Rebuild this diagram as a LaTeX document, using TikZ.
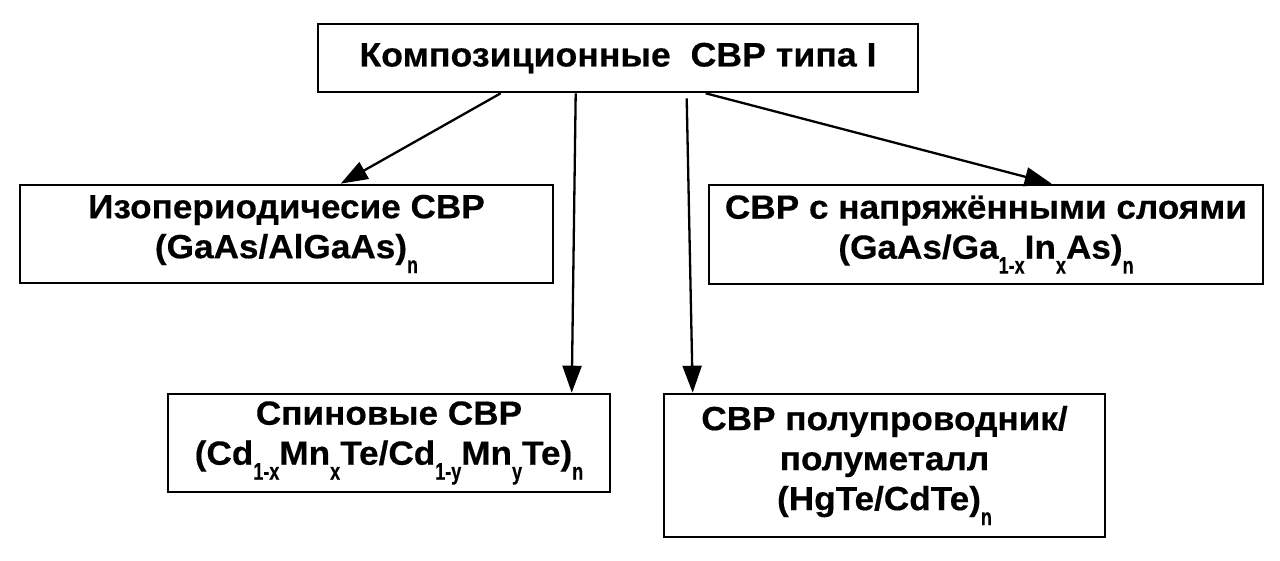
\documentclass[tikz,border=0pt]{standalone}
\usepackage{fontspec}
\setmainfont{Liberation Sans}[FakeStretch=1.05,BoldFeatures={FakeBold=0.4}]
\newfontfamily\subf{Liberation Sans}[BoldFeatures={FakeBold=0.4}]
\usetikzlibrary{arrows.meta,calc}
\newcommand\sbx[1]{\raisebox{-15pt}{\scalebox{0.75}[1]{\subf\fontsize{24}{24}\selectfont\bfseries #1}}}
\begin{document}
\begin{tikzpicture}[x=1pt,y=-1pt,
  box/.style={draw,line width=2.6pt,inner sep=0pt,align=center,
    font=\fontsize{33.5}{40}\selectfont\bfseries},
  arr/.style={line width=2.3pt,-{Triangle[length=27pt,width=19pt]}}]
\useasboundingbox (0,0) rectangle (1280,561);
\node[box,minimum width=600pt,minimum height=68pt,font=\fontsize{34}{40}\selectfont\bfseries] (T) at (618,58) {Композиционные\ \ СВР типа I};
\node[box,minimum width=533pt,minimum height=98pt] (L) at (286.5,234) {Изопериодичесие СВР\\(GaAs/AlGaAs)\sbx{n}};
\node[box,minimum width=554pt,minimum height=99pt] (R) at (986,234.5) {СВР с напряжёнными слоями\\(GaAs/Ga\sbx{1-x}In\sbx{x}As)\sbx{n}};
\node[box,minimum width=442pt,minimum height=98pt] (BL) at (389,443) {Спиновые СВР\\(Cd\sbx{1-x}Mn\sbx{x}Te/Cd\sbx{1-y}Mn\sbx{y}Te)\sbx{n}};
\node[box,minimum width=441pt,minimum height=143pt] (BR) at (884.5,465.5) {СВР полупроводник/\\полуметалл\\(HgTe/CdTe)\sbx{n}};
\coordinate (s1) at ($(T.south west)+(184,0)$);
\coordinate (s2) at ($(T.south west)+(259,0)$);
\coordinate (s3) at ($(T.south west)+(370,5)$);
\coordinate (s4) at ($(T.south west)+(389,0)$);
\coordinate (e1) at ($(L.north west)+(322,0)$);
\coordinate (e2) at ($(BL.north west)+(405,0)$);
\coordinate (e3) at ($(BR.north west)+(30,0)$);
\coordinate (e4) at ($(R.north west)+(344,0)$);
\draw[arr] (s1) -- (e1);
\draw[arr] (s2) -- (e2);
\draw[arr] (s3) -- (e3);
\draw[arr] (s4) -- (e4);
\end{tikzpicture}
\end{document}
